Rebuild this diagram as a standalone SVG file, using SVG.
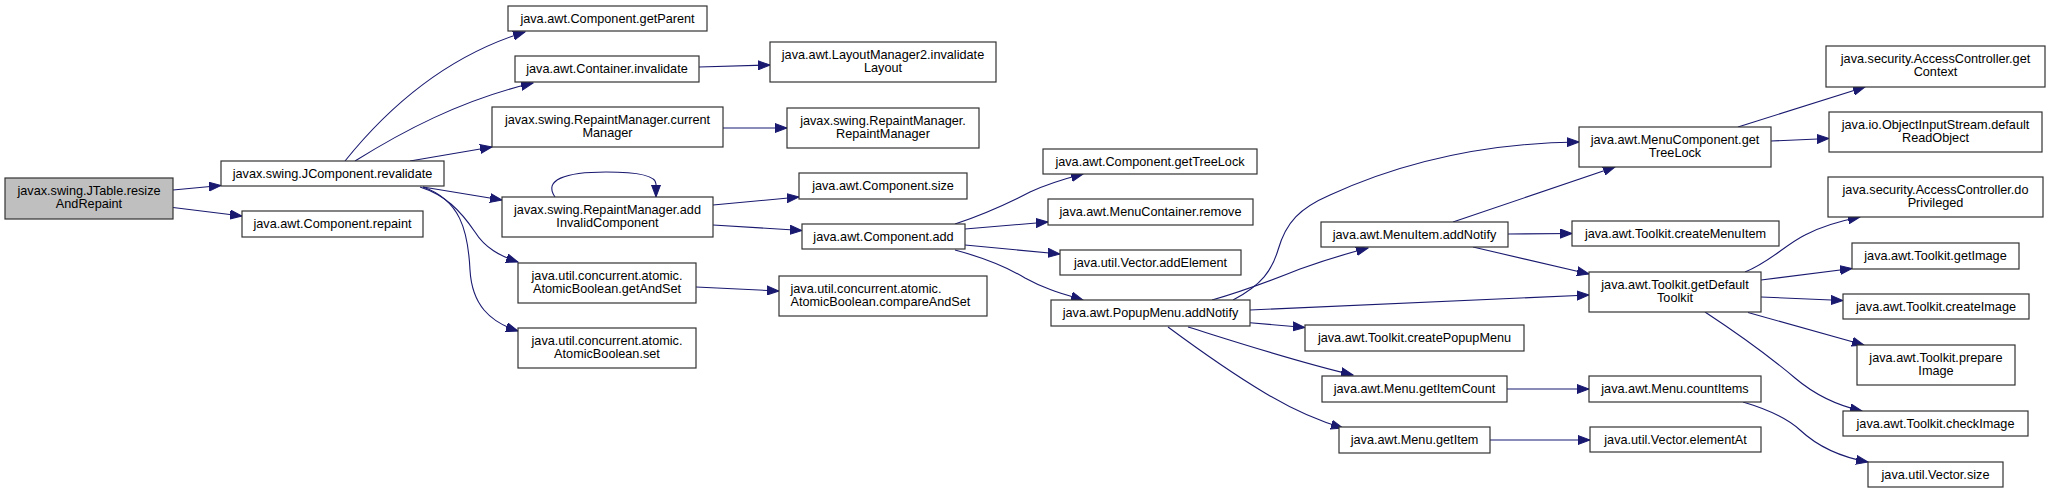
<svg xmlns="http://www.w3.org/2000/svg" width="2051" height="493" viewBox="0 0 2051 493">
<defs>
<style>
.n rect{fill:#fff;stroke:#333;stroke-width:1.2}
.n.root rect{fill:#bfbfbf}
.n text{font-family:"Liberation Sans",Arial,sans-serif;font-size:12.7px;fill:#000;text-anchor:middle}
.n text.l{text-anchor:start}
#edges path{fill:none;stroke:#191970;stroke-width:1.1;marker-end:url(#ah)}
</style>
<marker id="ah" markerUnits="userSpaceOnUse" markerWidth="13" markerHeight="10" refX="12" refY="5" orient="auto" viewBox="0 0 13 10">
<path d="M0,0.5 L12,5 L0,9.5 Z" fill="#191970" stroke="#191970" stroke-width="1"/>
</marker>
</defs>
<rect width="2051" height="493" fill="#fff"/>
<g id="edges">
<path d="M173,190 L221,185.5"/>
<path d="M173,207.5 L242,216"/>
<path d="M345,161 C390,105 450,55 525,32"/>
<path d="M355,161 C400,133 460,100 533,83"/>
<path d="M410,161 L492,147"/>
<path d="M423,187 L502,200"/>
<path d="M420,187 C445,195 460,210 475,232 C485,248 500,256 518,262"/>
<path d="M423,187 C460,200 468,230 470,270 C472,305 490,322 518,331"/>
<path d="M555,197 C543,180 565,172 606,172 C640,172 656,176 656,184 L656,197"/>
<path d="M723,128 L787,128"/>
<path d="M699,67 L770,65"/>
<path d="M713,205 L799,197"/>
<path d="M713,225 L802,230.5"/>
<path d="M696,287 L779,291"/>
<path d="M955,224 C985,214 1005,205 1030,192 C1045,185 1060,180 1083,174"/>
<path d="M965,229 L1048,222"/>
<path d="M965,245 L1060,254"/>
<path d="M955,250 C985,258 1005,266 1025,278 C1045,289 1060,293 1083,300"/>
<path d="M1212,300 C1240,292 1270,281 1300,269 C1325,260 1345,254 1368,248"/>
<path d="M1233,300 C1262,285 1272,270 1278,250 C1286,222 1300,208 1330,195 C1400,163 1480,143 1579,142"/>
<path d="M1250,322.7 L1305,327.5"/>
<path d="M1188,327 C1230,340 1290,360 1353,375"/>
<path d="M1168,327 C1195,347 1230,372 1265,393 C1290,408 1315,420 1343,428"/>
<path d="M1250,310 L1589,295"/>
<path d="M1453,222 L1615,167"/>
<path d="M1508,234 L1572,233.5"/>
<path d="M1473,247 L1589,274"/>
<path d="M1507,389 L1589,389"/>
<path d="M1490,440 L1590,440"/>
<path d="M1738,127 L1865,87"/>
<path d="M1771,141 L1829,138.5"/>
<path d="M1745,272 C1770,262 1785,245 1805,235 C1820,227 1840,221 1860,217"/>
<path d="M1761,280 L1852,268.5"/>
<path d="M1761,297 L1843,300.5"/>
<path d="M1748,312.5 L1864,345"/>
<path d="M1705,312 C1740,335 1770,357 1795,378 C1815,395 1835,405 1862,411"/>
<path d="M1743,402 C1770,410 1787,418 1800,430 C1815,444 1835,456 1868,462"/>
</g>
<g id="n0" class="n root"><rect x="5" y="178" width="168" height="41"/><text x="89" y="195">javax.swing.JTable.resize</text><text x="89" y="208.3">AndRepaint</text></g>
<g id="n1" class="n"><rect x="221" y="161" width="223" height="25"/><text x="332.5" y="177.8">javax.swing.JComponent.revalidate</text></g>
<g id="n2" class="n"><rect x="242" y="211" width="181" height="26"/><text x="332.5" y="228.3">java.awt.Component.repaint</text></g>
<g id="n3" class="n"><rect x="508" y="6" width="199" height="25"/><text x="607.5" y="22.8">java.awt.Component.getParent</text></g>
<g id="n4" class="n"><rect x="515" y="56" width="184" height="26"/><text x="607" y="73.3">java.awt.Container.invalidate</text></g>
<g id="n5" class="n"><rect x="492" y="107" width="231" height="40"/><text x="607.5" y="123.5">javax.swing.RepaintManager.current</text><text x="607.5" y="136.8">Manager</text></g>
<g id="n6" class="n"><rect x="502" y="197" width="211" height="40"/><text x="607.5" y="213.5">javax.swing.RepaintManager.add</text><text x="607.5" y="226.8">InvalidComponent</text></g>
<g id="n7" class="n"><rect x="518" y="263" width="178" height="40"/><text x="607" y="279.5">java.util.concurrent.atomic.</text><text x="607" y="292.8">AtomicBoolean.getAndSet</text></g>
<g id="n8" class="n"><rect x="518" y="328" width="178" height="40"/><text x="607" y="344.5">java.util.concurrent.atomic.</text><text x="607" y="357.8">AtomicBoolean.set</text></g>
<g id="n9" class="n"><rect x="770" y="42" width="226" height="40"/><text x="883" y="58.5">java.awt.LayoutManager2.invalidate</text><text x="883" y="71.8">Layout</text></g>
<g id="n10" class="n"><rect x="787" y="108" width="192" height="40"/><text x="883" y="124.5">javax.swing.RepaintManager.</text><text x="883" y="137.8">RepaintManager</text></g>
<g id="n11" class="n"><rect x="799" y="173" width="168" height="26"/><text x="883" y="190.3">java.awt.Component.size</text></g>
<g id="n12" class="n"><rect x="802" y="224" width="163" height="25"/><text x="883.5" y="240.8">java.awt.Component.add</text></g>
<g id="n13" class="n"><rect x="779" y="276" width="208" height="40"/><text class="l" x="790.5" y="292.5">java.util.concurrent.atomic.</text><text class="l" x="790.5" y="305.8">AtomicBoolean.compareAndSet</text></g>
<g id="n14" class="n"><rect x="1043" y="149" width="214" height="25"/><text x="1150" y="165.8">java.awt.Component.getTreeLock</text></g>
<g id="n15" class="n"><rect x="1048" y="199" width="205" height="26"/><text x="1150.5" y="216.3">java.awt.MenuContainer.remove</text></g>
<g id="n16" class="n"><rect x="1060" y="250" width="181" height="25"/><text x="1150.5" y="266.8">java.util.Vector.addElement</text></g>
<g id="n17" class="n"><rect x="1051" y="300" width="199" height="26"/><text x="1150.5" y="317.3">java.awt.PopupMenu.addNotify</text></g>
<g id="n18" class="n"><rect x="1321" y="222" width="187" height="25"/><text x="1414.5" y="238.8">java.awt.MenuItem.addNotify</text></g>
<g id="n19" class="n"><rect x="1305" y="325" width="219" height="26"/><text x="1414.5" y="342.3">java.awt.Toolkit.createPopupMenu</text></g>
<g id="n20" class="n"><rect x="1322" y="376" width="185" height="26"/><text x="1414.5" y="393.3">java.awt.Menu.getItemCount</text></g>
<g id="n21" class="n"><rect x="1339" y="427" width="151" height="26"/><text x="1414.5" y="444.3">java.awt.Menu.getItem</text></g>
<g id="n22" class="n"><rect x="1579" y="127" width="192" height="40"/><text x="1675" y="143.5">java.awt.MenuComponent.get</text><text x="1675" y="156.8">TreeLock</text></g>
<g id="n23" class="n"><rect x="1572" y="221" width="207" height="25"/><text x="1675.5" y="237.8">java.awt.Toolkit.createMenuItem</text></g>
<g id="n24" class="n"><rect x="1589" y="272" width="172" height="40"/><text x="1675" y="288.5">java.awt.Toolkit.getDefault</text><text x="1675" y="301.8">Toolkit</text></g>
<g id="n25" class="n"><rect x="1589" y="376" width="172" height="26"/><text x="1675" y="393.3">java.awt.Menu.countItems</text></g>
<g id="n26" class="n"><rect x="1590" y="427" width="171" height="25"/><text x="1675.5" y="443.8">java.util.Vector.elementAt</text></g>
<g id="n27" class="n"><rect x="1826" y="46" width="219" height="41"/><text x="1935.5" y="63">java.security.AccessController.get</text><text x="1935.5" y="76.3">Context</text></g>
<g id="n28" class="n"><rect x="1829" y="112" width="213" height="40"/><text x="1935.5" y="128.5">java.io.ObjectInputStream.default</text><text x="1935.5" y="141.8">ReadObject</text></g>
<g id="n29" class="n"><rect x="1828" y="177" width="215" height="40"/><text x="1935.5" y="193.5">java.security.AccessController.do</text><text x="1935.5" y="206.8">Privileged</text></g>
<g id="n30" class="n"><rect x="1852" y="243" width="167" height="26"/><text x="1935.5" y="260.3">java.awt.Toolkit.getImage</text></g>
<g id="n31" class="n"><rect x="1843" y="294" width="186" height="25"/><text x="1936" y="310.8">java.awt.Toolkit.createImage</text></g>
<g id="n32" class="n"><rect x="1857" y="345" width="158" height="40"/><text x="1936" y="361.5">java.awt.Toolkit.prepare</text><text x="1936" y="374.8">Image</text></g>
<g id="n33" class="n"><rect x="1843" y="411" width="185" height="25"/><text x="1935.5" y="427.8">java.awt.Toolkit.checkImage</text></g>
<g id="n34" class="n"><rect x="1868" y="462" width="135" height="25"/><text x="1935.5" y="478.8">java.util.Vector.size</text></g>
</svg>
